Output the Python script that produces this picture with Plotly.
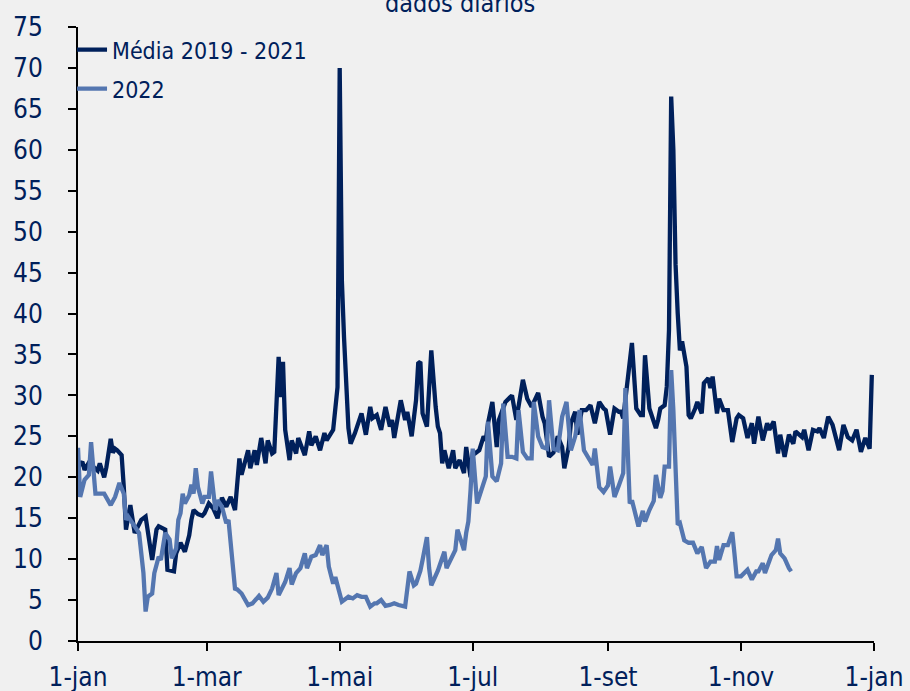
import pandas as pd
import plotly.graph_objects as go

# ---------------- data ----------------
media_days = [0, 2, 3, 5, 6, 9, 10, 12, 13, 15, 16, 17, 18, 20, 21, 22, 24, 26, 29, 31, 34, 36, 37, 40,
              41, 44, 45, 47, 49, 51, 52, 53, 55, 57, 58, 60, 62, 64, 66, 68, 70, 72, 74, 75, 78, 79,
              81, 82, 84, 86, 87, 89, 90, 92, 93, 94, 95, 97, 98, 100, 101, 104, 106, 107, 109, 111,
              113, 114, 117, 118, 119, 120, 121, 122, 123, 124, 125, 127, 130, 132, 134, 135, 137,
              139, 141, 143, 144, 145, 148, 150, 151, 153, 155, 156, 157, 158, 160, 162, 164, 165,
              166, 167, 168, 170, 172, 173, 175, 177, 178, 180, 181, 182, 184, 186, 187, 188, 190,
              192, 193, 196, 199, 201, 204, 206, 208, 211, 213, 214, 216, 218, 220, 222, 223, 225,
              226, 228, 229, 231, 233, 235, 237, 239, 241, 242, 244, 246, 248, 249, 250, 251, 254,
              256, 258, 259, 260, 262, 265, 266, 267, 269, 270, 271, 272, 273, 274, 275, 276, 277,
              278, 279, 280, 281, 283, 284, 286, 287, 289, 290, 291, 293, 294, 296, 298, 300, 302,
              303, 305, 306, 307, 309, 310, 312, 314, 316, 317, 319, 321, 322, 324, 326, 328, 329,
              332, 333, 335, 337, 339, 340, 342, 344, 346, 349, 351, 353, 355, 357, 359, 361, 363, 364]
media_vals = [21.3, 21.9, 20.9, 21.8, 21.5, 20.8, 21.7, 20.0, 21.2, 24.7, 23.0, 23.5, 23.3, 22.7, 18.8,
              13.6, 16.6, 13.2, 14.8, 15.2, 9.9, 13.6, 14.0, 13.6, 8.7, 8.5, 10.7, 12.0, 10.9, 12.9,
              14.8, 16.0, 15.5, 15.3, 15.6, 16.8, 16.2, 15.0, 17.5, 16.4, 17.6, 16.0, 22.3, 20.3, 23.3,
              21.1, 23.3, 21.5, 24.8, 21.7, 24.5, 22.9, 23.1, 34.7, 29.8, 34.1, 25.8, 22.1, 24.5, 22.9,
              24.8, 22.7, 25.6, 23.9, 25.0, 23.3, 25.4, 24.5, 25.8, 28.6, 31.0, 70.0, 44.0, 37.0, 32.0,
              26.0, 24.1, 25.4, 27.8, 25.2, 28.6, 27.2, 27.6, 25.8, 28.6, 26.2, 27.0, 24.8, 29.4, 27.0,
              28.0, 25.0, 29.4, 33.9, 34.1, 27.8, 26.2, 35.5, 28.6, 26.2, 25.4, 21.7, 23.3, 21.1, 23.3,
              21.1, 22.1, 20.5, 23.7, 20.0, 22.9, 22.9, 23.3, 25.0, 24.5, 26.6, 29.2, 23.7, 27.0, 29.2,
              30.0, 27.0, 31.9, 29.6, 28.6, 30.3, 27.4, 26.6, 22.5, 23.0, 25.0, 23.7, 21.1, 23.7, 26.6,
              28.0, 25.2, 28.2, 28.2, 28.8, 26.6, 29.2, 28.4, 28.2, 25.2, 28.4, 28.0, 28.0, 27.2, 29.8,
              36.4, 28.4, 27.6, 27.6, 34.9, 28.4, 26.0, 27.0, 28.4, 28.8, 31.1, 38.0, 66.5, 60.0, 46.0,
              40.0, 35.5, 36.6, 35.0, 33.5, 27.6, 27.2, 28.4, 29.2, 27.8, 31.5, 32.1, 30.9, 32.3, 27.8,
              29.6, 28.2, 28.2, 24.3, 27.2, 27.6, 27.2, 26.0, 24.8, 26.6, 24.1, 27.4, 24.5, 26.6, 25.8,
              26.8, 22.9, 25.2, 22.5, 25.2, 24.1, 25.6, 24.9, 25.8, 23.3, 25.8, 25.6, 26.0, 24.8, 27.4,
              26.4, 23.3, 26.4, 24.9, 24.5, 25.8, 23.1, 24.8, 23.5, 32.5]

y2022_days = [0, 1, 3, 5, 6, 7, 8, 10, 12, 15, 17, 19, 21, 22, 23, 25, 27, 28, 30, 31, 32, 34, 35, 37,
              38, 40, 42, 43, 45, 46, 47, 48, 49, 51, 52, 53, 54, 55, 57, 58, 60, 61, 63, 64, 66, 68,
              69, 71, 72, 73, 75, 78, 80, 83, 85, 87, 89, 91, 92, 95, 97, 98, 100, 102, 104, 105, 107,
              109, 111, 112, 114, 115, 117, 118, 120, 121, 124, 126, 128, 130, 132, 134, 136, 137,
              139, 141, 143, 145, 147, 150, 152, 154, 155, 157, 158, 160, 161, 162, 165, 166, 168,
              169, 172, 173, 174, 177, 178, 179, 180, 181, 183, 186, 187, 188, 190, 192, 194, 195,
              197, 199, 201, 202, 204, 206, 208, 209, 211, 213, 215, 216, 218, 220, 222, 224, 226,
              228, 230, 232, 234, 236, 237, 239, 241, 243, 244, 245, 246, 248, 250, 251, 252, 253,
              254, 256, 257, 259, 260, 262, 264, 265, 267, 268, 269, 271, 272, 273, 274, 275, 276,
              278, 280, 282, 284, 286, 288, 290, 292, 293, 294, 296, 298, 300, 301, 302, 304, 307,
              309, 311, 312, 314, 315, 317, 318, 320, 321, 322, 324, 326, 327]
y2022_vals = [23.6, 17.6, 19.7, 20.3, 24.3, 20.9, 18.0, 18.0, 18.0, 16.6, 17.6, 19.3, 18.0, 14.8, 15.2,
              14.4, 13.6, 13.2, 8.3, 3.6, 5.4, 5.8, 8.3, 10.3, 9.9, 13.2, 12.4, 10.1, 11.3, 14.8, 15.6,
              18.0, 16.8, 17.8, 19.1, 18.0, 21.1, 18.8, 16.8, 17.6, 17.6, 20.7, 16.0, 17.2, 16.4, 14.4,
              14.8, 8.3, 6.4, 6.3, 5.8, 4.4, 4.6, 5.5, 4.8, 5.3, 6.4, 8.3, 5.6, 7.2, 8.9, 6.9, 8.3, 8.9,
              10.7, 8.9, 10.3, 10.5, 11.7, 10.5, 11.7, 9.1, 7.0, 7.8, 5.4, 4.8, 5.4, 5.2, 5.6, 5.4, 5.4,
              4.2, 4.6, 4.6, 5.0, 4.3, 4.4, 4.6, 4.4, 4.2, 8.5, 6.8, 7.0, 8.6, 9.9, 12.7, 8.9, 6.8, 8.6,
              9.4, 10.9, 8.9, 10.7, 11.1, 13.6, 11.1, 13.2, 14.6, 18.4, 23.5, 16.8, 19.3, 20.1, 26.8,
              20.1, 19.5, 21.7, 29.0, 22.5, 22.5, 22.3, 28.2, 23.1, 22.3, 22.3, 29.2, 25.0, 23.7, 23.5,
              29.4, 23.5, 23.3, 27.4, 29.2, 23.3, 25.0, 28.2, 23.3, 22.3, 21.5, 23.5, 18.8, 18.2, 19.0,
              21.3, 19.6, 17.6, 19.0, 20.5, 30.9, 24.5, 16.8, 17.2, 14.8, 14.0, 15.9, 14.6, 16.0, 17.1,
              20.3, 17.5, 18.3, 21.3, 21.3, 33.1, 28.2, 20.1, 14.2, 14.4, 12.3, 12.0, 12.0, 10.7, 11.5,
              8.9, 9.7, 9.7, 11.6, 9.9, 11.7, 11.7, 13.3, 10.7, 7.9, 7.9, 8.7, 7.5, 8.5, 8.5, 9.5, 8.3,
              10.0, 10.5, 11.1, 12.5, 10.7, 10.1, 8.9, 8.5]

series_names = ["Média 2019 - 2021", "2022"]
tick_dates = ["2022-01-01", "2022-03-01", "2022-05-01", "2022-07-01", "2022-09-01", "2022-11-01", "2023-01-01"]
tick_labels = ["1-jan", "1-mar", "1-mai", "1-jul", "1-set", "1-nov", "1-jan"]
title_text = "dados diários"

# ---------------- figure ----------------
base = pd.Timestamp("2022-01-01")
to_dates = lambda d: base + pd.to_timedelta(d, unit="D")

NAVY = "#00205b"
LIGHT = "#5476b0"
FONT = "DejaVu Sans Condensed, Open Sans, sans-serif"

fig = go.Figure()
fig.add_trace(go.Scatter(x=to_dates(media_days), y=media_vals, mode="lines", name=series_names[0],
                         legendgroup="a", line=dict(color=NAVY, width=4.3)))
fig.add_trace(go.Scatter(x=to_dates(y2022_days), y=y2022_vals, mode="lines", name=series_names[1],
                         legendgroup="b", line=dict(color=LIGHT, width=4.3)))

fig.update_layout(
    width=910, height=691,
    margin=dict(l=78, r=36, t=27, b=50, autoexpand=False),
    paper_bgcolor="#f0f0f0", plot_bgcolor="#f0f0f0",
    font=dict(family=FONT, color=NAVY, size=22),
    showlegend=True,
    legend=dict(x=-0.0075, y=0.998, xanchor="left", yanchor="top", bgcolor="rgba(0,0,0,0)",
                font=dict(size=23, color=NAVY), tracegroupgap=6, itemwidth=30),
    annotations=[dict(text=title_text, xref="paper", yref="paper", x=0.48, y=1.0375,
                      xanchor="center", yanchor="middle", showarrow=False,
                      font=dict(size=25, color=NAVY))],
)
fig.update_xaxes(range=["2022-01-01", "2023-01-01"], tickvals=tick_dates, ticktext=tick_labels,
                 automargin=False, showgrid=False, zeroline=False, showline=True, linecolor="black",
                 linewidth=2, ticks="outside", ticklen=8, tickwidth=2, tickcolor="black",
                 ticklabelstandoff=4, tickfont=dict(size=26, color=NAVY))
fig.update_yaxes(range=[0, 75], dtick=5, automargin=False, showgrid=False, zeroline=False,
                 showline=True, linecolor="black", linewidth=2, ticks="outside", ticklen=8,
                 tickwidth=2, tickcolor="black", ticklabelstandoff=20,
                 tickfont=dict(size=26, color=NAVY))

fig.write_html("out.html", config={"displayModeBar": False},
               post_script="document.body.style.margin='0';")
